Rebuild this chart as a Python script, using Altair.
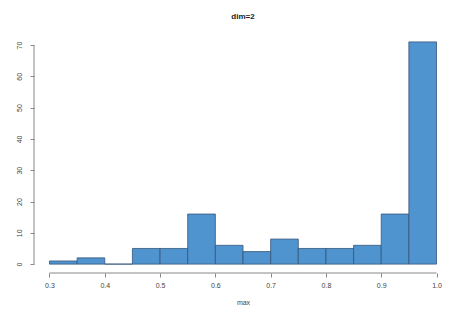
import altair as alt
import pandas as pd

bin_start = [0.30, 0.35, 0.40, 0.45, 0.50, 0.55, 0.60, 0.65, 0.70, 0.75, 0.80, 0.85, 0.90, 0.95]
bin_end = [0.35, 0.40, 0.45, 0.50, 0.55, 0.60, 0.65, 0.70, 0.75, 0.80, 0.85, 0.90, 0.95, 1.00]
counts = [1, 2, 0, 5, 5, 16, 6, 4, 8, 5, 5, 6, 16, 71]
x_ticks = [0.3, 0.4, 0.5, 0.6, 0.7, 0.8, 0.9, 1.0]
y_ticks = [0, 10, 20, 30, 40, 50, 60, 70]

df = pd.DataFrame({"start": bin_start, "end": bin_end, "count": counts})

xdom = [0.272, 1.028]
ydom = [-2.84, 73.84]
FONT = "Liberation Sans"
AX = "#888888"

xs = alt.Scale(domain=xdom, nice=False, zero=False)
ys = alt.Scale(domain=ydom, nice=False, zero=False)

xaxis = alt.Axis(
    values=x_ticks, format=".1f", domain=False, grid=False, labelOverlap=False,
    labelFlush=False,
    tickSize=4, tickColor=AX, labelFontSize=7, labelColor="#444444",
    labelFont=FONT, labelPadding=4, title="max", titleFont=FONT,
    titleFontSize=7, titleFontWeight="normal", titleColor="#444444",
    titlePadding=10)
yaxis = alt.Axis(
    values=y_ticks, domain=False, grid=False, tickSize=4, tickColor=AX,
    labelOverlap=False, labelFlush=False,
    labelFontSize=7, labelColor="#444444", labelFont=FONT, labelAngle=270,
    labelAlign="center", labelBaseline="bottom", labelPadding=8, title=None)

bars = alt.Chart(df).mark_rect(
    fill="#4f93cf", stroke="#34567a", strokeWidth=0.8
).encode(
    x=alt.X("start:Q", scale=xs, axis=xaxis),
    x2="end:Q",
    y=alt.Y("count:Q", scale=ys, axis=yaxis),
    y2=alt.datum(0),
)

xline = alt.Chart(pd.DataFrame({"a": [min(x_ticks)], "b": [max(x_ticks)], "y": [ydom[0]]})).mark_rule(
    color=AX, strokeWidth=1).encode(
    x=alt.X("a:Q", scale=xs, axis=xaxis), x2="b:Q", y=alt.Y("y:Q", scale=ys, axis=yaxis))
yline = alt.Chart(pd.DataFrame({"a": [min(y_ticks)], "b": [max(y_ticks)], "x": [xdom[0]]})).mark_rule(
    color=AX, strokeWidth=1).encode(
    y=alt.Y("a:Q", scale=ys, axis=yaxis), y2="b:Q", x=alt.X("x:Q", scale=xs, axis=xaxis))

chart = alt.layer(bars, xline, yline).properties(
    width=418, height=240,
    title=alt.TitleParams("dim=2", font=FONT, fontSize=8, fontWeight="bold", color="#222222", offset=12),
    autosize=alt.AutoSizeParams(type="none"),
    padding={"left": 26, "top": 25, "right": 5, "bottom": 34},
).configure_view(stroke=None)

chart.save("out.html", embed_options={"renderer": "svg", "actions": False})
